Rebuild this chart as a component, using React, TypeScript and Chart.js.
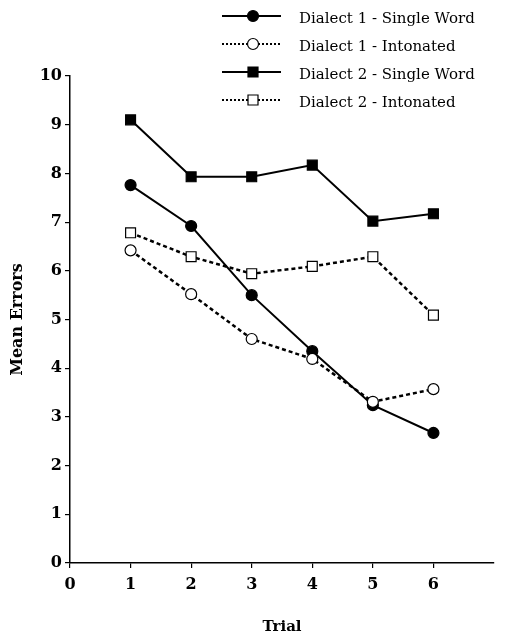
import React, { useEffect, useRef } from "react";
import { Chart, registerables } from "chart.js";

Chart.register(...registerables);

const trials = [1, 2, 3, 4, 5, 6];
const d1Single = [7.76, 6.92, 5.5, 4.35, 3.24, 2.67];
const d1Inton = [6.42, 5.52, 4.6, 4.19, 3.31, 3.57];
const d2Single = [9.1, 7.93, 7.93, 8.17, 7.02, 7.17];
const d2Inton = [6.78, 6.29, 5.94, 6.09, 6.29, 5.09];
const xTickValues = [0, 1, 2, 3, 4, 5, 6];
const yTickValues = [0, 1, 2, 3, 4, 5, 6, 7, 8, 9, 10];
const seriesLabels = [
  "Dialect 1 - Single Word",
  "Dialect 1 - Intonated",
  "Dialect 2 - Single Word",
  "Dialect 2 - Intonated",
];

const SERIF = "'DejaVu Serif', 'Liberation Serif', serif";

const toPoints = (vals: number[]) => vals.map((v, i) => ({ x: trials[i], y: v }));

const legendPlugin = {
  id: "customLegend",
  afterDraw(chart: any) {
    const ctx = chart.ctx;
    const ds = chart.data.datasets;
    ctx.save();
    ds.forEach((d: any, i: number) => {
      const y = 16 + i * 28;
      const dashed = d.borderDash && d.borderDash.length;
      ctx.strokeStyle = "#000";
      ctx.lineWidth = 2;
      ctx.setLineDash(dashed ? [2, 2] : []);
      ctx.beginPath();
      ctx.moveTo(222, y);
      ctx.lineTo(281, y);
      ctx.stroke();
      ctx.setLineDash([]);
      const mx = 253;
      ctx.fillStyle = d.pointBackgroundColor;
      ctx.lineWidth = 1.2;
      if (d.pointStyle === "rect") {
        const s = 5;
        ctx.beginPath();
        ctx.rect(mx - s, y - s, 2 * s, 2 * s);
        ctx.fill();
        ctx.stroke();
      } else {
        ctx.beginPath();
        ctx.arc(mx, y, 5.5, 0, Math.PI * 2);
        ctx.fill();
        ctx.stroke();
      }
      ctx.fillStyle = "#000";
      ctx.font = `15px ${SERIF}`;
      ctx.textBaseline = "middle";
      ctx.textAlign = "left";
      ctx.fillText(d.label, 299, y + 3);
    });
    ctx.restore();
  },
};

export default function App() {
  const ref = useRef<HTMLCanvasElement | null>(null);
  useEffect(() => {
    if (!ref.current) return;
    const mk = (label: string, vals: number[], dashed: boolean, style: string, filled: boolean, order: number) => ({
      label,
      data: toPoints(vals),
      borderColor: "#000",
      borderWidth: dashed ? 2.5 : 2,
      borderDash: dashed ? [4, 3] : [],
      pointStyle: style,
      pointRadius: style === "rect" ? 7 : 5.5,
      pointBorderWidth: 1.2,
      pointBorderColor: "#000",
      pointBackgroundColor: filled ? "#000" : "#fff",
      fill: false,
      tension: 0,
      order,
    });
    const chart = new Chart(ref.current, {
      type: "line",
      data: {
        datasets: [
          mk(seriesLabels[0], d1Single, false, "circle", true, 1),
          mk(seriesLabels[1], d1Inton, true, "circle", false, 0),
          mk(seriesLabels[2], d2Single, false, "rect", true, 3),
          mk(seriesLabels[3], d2Inton, true, "rect", false, 2),
        ],
      },
      options: {
        animation: false,
        responsive: false,
        devicePixelRatio: 1,
        layout: { padding: { top: 76, right: 14, left: 0, bottom: 0 } },
        plugins: { legend: { display: false }, tooltip: { enabled: false } },
        scales: {
          x: {
            type: "linear",
            min: 0,
            max: 7,
            afterBuildTicks: (s: any) => {
              s.ticks = xTickValues.map((v) => ({ value: v }));
            },
            afterFit: (s: any) => {
              s.height = 74;
            },
            grid: { display: true, drawOnChartArea: false, drawTicks: true, tickLength: 5, color: "#000", lineWidth: 1.2 },
            border: { display: true, color: "#000", width: 1.5 },
            ticks: {
              color: "#000",
              padding: 7,
              maxRotation: 0,
              font: { family: SERIF, size: 16, weight: "bold" },
            },
            title: {
              display: true,
              text: "Trial",
              color: "#000",
              padding: { top: 0, bottom: 1 },
              font: { family: SERIF, size: 15, weight: "bold" },
            },
          },
          y: {
            min: 0,
            max: 10,
            afterBuildTicks: (s: any) => {
              s.ticks = yTickValues.map((v) => ({ value: v }));
            },
            afterFit: (s: any) => {
              s.width = 70;
            },
            grid: { display: true, drawOnChartArea: false, drawTicks: true, tickLength: 5, color: "#000", lineWidth: 1.2 },
            border: { display: true, color: "#000", width: 1.5 },
            ticks: {
              color: "#000",
              padding: 3,
              font: { family: SERIF, size: 16, weight: "bold" },
            },
            title: {
              display: true,
              text: "Mean Errors",
              color: "#000",
              padding: { top: 8, bottom: 0 },
              font: { family: SERIF, size: 16, weight: "bold" },
            },
          },
        },
      },
      plugins: [legendPlugin],
    } as any);
    return () => chart.destroy();
  }, []);
  return (
    <div style={{ position: "absolute", left: 0, top: 0, width: 508, height: 637, background: "#fff" }}>
      <canvas ref={ref} width={508} height={637} style={{ display: "block" }} />
    </div>
  );
}
